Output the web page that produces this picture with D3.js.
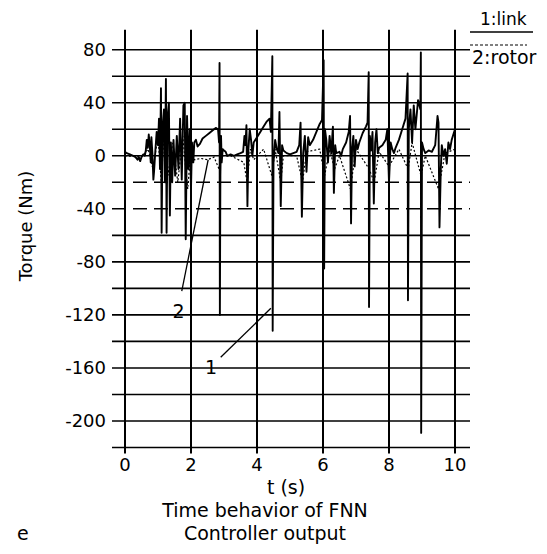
<!DOCTYPE html>
<html>
<head>
<meta charset="utf-8">
<script src="https://cdn.jsdelivr.net/npm/d3@7"></script>
<style>
  html, body { margin: 0; padding: 0; background: #fff; }
  svg { display: block; }
  text { font-family: "DejaVu Sans", sans-serif; fill: #000; }
</style>
</head>
<body>
<svg id="chart" width="547" height="554"></svg>
<script>
// ---- data ----
const xTicks = [0, 2, 4, 6, 8, 10];
const yTickLabels = [80, 40, 0, -40, -80, -120, -160, -200];
const yGridValues = [80, 60, 40, 20, 0, -20, -40, -60, -80, -100, -120, -140, -160, -180, -200, -220];
const dashedGridValues = [-20, -40];

// 1: link torque (solid)
const linkSeries = [
  [0.00, 3], [0.05, 2], [0.15, 1], [0.25, 0], [0.32, -1], [0.38, -3], [0.42, -1], [0.46, -4], [0.50, -1],
  [0.55, 1], [0.60, 0], [0.63, 4], [0.66, 12], [0.69, 6], [0.72, 16], [0.75, 8], [0.78, -5], [0.80, 14],
  [0.83, 2], [0.86, -18], [0.88, -12], [0.92, 4], [0.96, 18], [1.00, 8], [1.03, 28], [1.06, -10],
  [1.09, 51], [1.11, -58], [1.14, 22], [1.18, 35], [1.21, -20], [1.24, 58], [1.26, -58], [1.29, 30],
  [1.33, 40], [1.36, -45], [1.39, 10], [1.43, -20], [1.47, 12], [1.52, -15], [1.57, 15], [1.62, -10],
  [1.67, 28], [1.72, -18], [1.77, 38], [1.81, 40], [1.84, -63], [1.88, 30], [1.92, -10], [1.96, 20],
  [2.00, -25], [2.03, 10], [2.07, -5], [2.10, 10], [2.15, 12], [2.20, 7], [2.27, 9], [2.35, 13],
  [2.45, 15], [2.55, 17], [2.65, 19], [2.75, 21], [2.82, 20], [2.85, 10], [2.865, 70], [2.875, -120],
  [2.89, -15], [2.91, 15], [2.93, -5], [2.96, 5], [3.00, 4], [3.05, 3], [3.10, 0], [3.20, 1],
  [3.30, 0], [3.40, 1], [3.50, 2], [3.58, 3], [3.62, 15], [3.65, 8], [3.68, 23], [3.71, -38],
  [3.74, 5], [3.78, 20], [3.82, 12], [3.86, 0], [3.90, 10], [4.00, 14], [4.10, 18], [4.20, 22],
  [4.30, 26], [4.38, 28], [4.42, 18], [4.465, 75], [4.475, -132], [4.50, -5], [4.55, 12], [4.60, 5],
  [4.65, 2], [4.68, 33], [4.72, -38], [4.76, 8], [4.80, 4], [4.90, 2], [5.00, 1], [5.10, 2], [5.20, 3],
  [5.28, 8], [5.32, 25], [5.36, -46], [5.40, 2], [5.45, 15], [5.50, -12], [5.55, 14], [5.60, 8],
  [5.70, 12], [5.80, 18], [5.90, 24], [5.97, 27], [6.02, 72], [6.035, -85], [6.06, 20], [6.10, 12],
  [6.15, -5], [6.20, 15], [6.25, 2], [6.30, 22], [6.33, -28], [6.37, 8], [6.40, 2], [6.50, 3],
  [6.55, 0], [6.60, 5], [6.70, 10], [6.78, 18], [6.82, 30], [6.85, -51], [6.88, 5], [6.92, 15],
  [6.96, -8], [7.00, 12], [7.05, 5], [7.10, 10], [7.20, 17], [7.30, 22], [7.35, 25], [7.385, 63],
  [7.395, -114], [7.42, 15], [7.46, 4], [7.50, 18], [7.54, -36], [7.58, 10], [7.62, 20], [7.66, 2],
  [7.70, 6], [7.80, 8], [7.90, 12], [7.95, 20], [8.00, -20], [8.05, 10], [8.10, 5], [8.15, 2],
  [8.20, 6], [8.30, 12], [8.40, 20], [8.50, 28], [8.565, 62], [8.575, -109], [8.60, 20], [8.65, 35],
  [8.70, 10], [8.75, 38], [8.80, 20], [8.88, 42], [8.95, 35], [8.965, 78], [8.975, -209], [9.00, 10],
  [9.05, 5], [9.10, 2], [9.20, 4], [9.30, 3], [9.40, 8], [9.47, 30], [9.50, 25], [9.53, -54],
  [9.57, -10], [9.60, 8], [9.65, 0], [9.70, 5], [9.75, -6], [9.80, 10], [9.85, 5], [9.90, 12],
  [9.95, 16], [10.00, 20]
];

// 2: rotor torque (dotted)
const rotorSeries = [
  [0.00, 0], [0.50, -1], [0.70, 5], [0.85, -10], [1.00, 15], [1.10, -20], [1.20, 25], [1.30, -15],
  [1.45, 10], [1.60, -20], [1.75, 15], [1.90, -25], [2.00, 5], [2.10, -3], [2.30, -2], [2.50, -3],
  [2.70, -1], [2.85, -10], [2.95, 0], [3.20, 0], [3.60, -5], [3.70, -20], [3.80, 5], [3.90, -3],
  [4.20, 5], [4.45, -15], [4.55, 5], [4.72, -20], [4.80, 0], [5.20, 0], [5.38, -20], [5.50, 3],
  [5.90, 5], [6.05, -15], [6.20, 5], [6.35, -10], [6.50, 0], [6.83, -25], [7.00, 5], [7.40, -10],
  [7.55, -20], [7.70, 3], [8.00, -8], [8.30, 5], [8.58, -10], [8.70, 10], [8.97, -15], [9.10, 0],
  [9.50, -25], [9.70, 2], [10.00, 5]
];

// annotation labels (data coordinates)
const annotations = [
  { label: "2", at: [1.62, -117], from: [1.72, -102], to: [2.52, -3] },
  { label: "1", at: [2.61, -159], from: [2.90, -152], to: [4.42, -115] }
];

// ---- drawing ----
const svg = d3.select("#chart");
const x = d3.scaleLinear().domain([0, 10]).range([125, 455]);
const y = d3.scaleLinear().domain([-220, 95]).range([447.5, 29.8]);

// horizontal grid lines
svg.append("g").selectAll("line").data(yGridValues).join("line")
  .attr("x1", 112).attr("x2", 470)
  .attr("y1", d => y(d)).attr("y2", d => y(d))
  .attr("stroke", "#000")
  .attr("stroke-width", 1.6)
  .attr("stroke-dasharray", d => dashedGridValues.includes(d) ? "14,7" : null);

// vertical grid lines
svg.append("g").selectAll("line").data(xTicks).join("line")
  .attr("x1", d => x(d)).attr("x2", d => x(d))
  .attr("y1", y(95)).attr("y2", y(-220) + 6)
  .attr("stroke", "#000")
  .attr("stroke-width", 2);

// y tick labels
svg.append("g").selectAll("text").data(yTickLabels).join("text")
  .attr("x", 106).attr("y", d => y(d))
  .attr("text-anchor", "end")
  .attr("dominant-baseline", "central")
  .style("font-size", "18px")
  .text(d => d);

// x tick labels
svg.append("g").selectAll("text").data(xTicks).join("text")
  .attr("x", d => x(d)).attr("y", 471)
  .attr("text-anchor", "middle")
  .style("font-size", "18px")
  .text(d => d);

// series
const line = d3.line().x(d => x(d[0])).y(d => y(d[1]));
svg.append("path").datum(rotorSeries)
  .attr("d", line).attr("fill", "none")
  .attr("stroke", "#000").attr("stroke-width", 1.2)
  .attr("stroke-dasharray", "2,2");
svg.append("path").datum(linkSeries)
  .attr("d", line).attr("fill", "none")
  .attr("stroke", "#000").attr("stroke-width", 1.9)
  .attr("stroke-linejoin", "round");

// annotations
annotations.forEach(a => {
  svg.append("line")
    .attr("x1", x(a.from[0])).attr("y1", y(a.from[1]))
    .attr("x2", x(a.to[0])).attr("y2", y(a.to[1]))
    .attr("stroke", "#000").attr("stroke-width", 1.3);
  svg.append("text")
    .attr("x", x(a.at[0])).attr("y", y(a.at[1]))
    .attr("text-anchor", "middle").attr("dominant-baseline", "central")
    .style("font-size", "19px")
    .text(a.label);
});

// legend
svg.append("text").attr("x", 480).attr("y", 25).style("font-size", "17px").text("1:link");
svg.append("line").attr("x1", 470).attr("x2", 533).attr("y1", 32).attr("y2", 32)
  .attr("stroke", "#000").attr("stroke-width", 1.4);
svg.append("line").attr("x1", 470).attr("x2", 527).attr("y1", 45).attr("y2", 45)
  .attr("stroke", "#000").attr("stroke-width", 1.2).attr("stroke-dasharray", "3,2");
svg.append("text").attr("x", 472).attr("y", 64).style("font-size", "19px").text("2:rotor");

// axis titles
svg.append("text")
  .attr("transform", "translate(32,226) rotate(-90)")
  .attr("text-anchor", "middle")
  .style("font-size", "18px")
  .text("Torque (Nm)");
svg.append("text").attr("x", 286).attr("y", 494).attr("text-anchor", "middle")
  .style("font-size", "19px").text("t (s)");
svg.append("text").attr("x", 265).attr("y", 517).attr("text-anchor", "middle")
  .style("font-size", "19px").text("Time behavior of FNN");
svg.append("text").attr("x", 265).attr("y", 540).attr("text-anchor", "middle")
  .style("font-size", "19px").text("Controller output");
svg.append("text").attr("x", 17).attr("y", 540)
  .style("font-size", "19px").text("e");
</script>
</body>
</html>
